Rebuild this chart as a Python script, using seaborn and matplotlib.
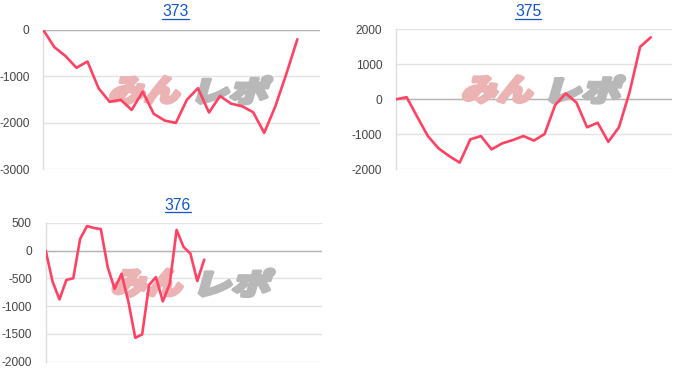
import numpy as np
import pandas as pd
import matplotlib
matplotlib.use("Agg")
import matplotlib.pyplot as plt
import seaborn as sns
from matplotlib.textpath import TextPath
from matplotlib.patches import PathPatch
from matplotlib.font_manager import FontProperties
from matplotlib.transforms import Affine2D, IdentityTransform
from matplotlib.lines import Line2D

# ---------------- data ----------------
titles = ["373", "375", "376"]
values_373 = [0, -370, -560, -815, -680, -1255, -1550, -1505, -1725, -1330, -1810, -1955,
              -2005, -1505, -1256, -1780, -1425, -1590, -1645, -1775, -2220, -1650, -950, -200]
values_375 = [0, 60, -500, -1050, -1400, -1620, -1810, -1145, -1050, -1430, -1260, -1165,
              -1050, -1180, -990, -160, 170, -95, -800, -670, -1215, -800, 200, 1500, 1770]
values_376 = [0, -560, -880, -530, -500, 210, 440, 405, 385, -300, -690, -420, -920,
              -1570, -1510, -620, -480, -915, -600, 370, 65, -55, -550, -165]
yticks_373 = [0, -1000, -2000, -3000]
yticks_375 = [2000, 1000, 0, -1000, -2000]
yticks_376 = [500, 0, -500, -1000, -1500, -2000]
xmax = [25.05, 26.0, 40.1]

series = [values_373, values_375, values_376]
yticks = [yticks_373, yticks_375, yticks_376]

# ---------------- style ----------------
sns.set_theme(style="white")
plt.rcParams["font.family"] = ["Liberation Sans", "DejaVu Sans"]

W, H = 700, 386
fig = plt.figure(figsize=(W / 100, H / 100), dpi=100)
fig.patch.set_facecolor("white")

# axes rectangles in pixels: left, top, right, bottom
rects_px = [(43.3, 30.0, 320.0, 169.0), (396.0, 29.3, 672.0, 169.3), (45.7, 222.7, 322.0, 361.7)]
title_px = [(175.5, 12.0), (528.0, 12.0), (177.7, 205.0)]

LINE = "#ff4263"
BLUE = "#1155cc"

axes = []
for i, (l, t, r, b) in enumerate(rects_px):
    ax = fig.add_axes([l / W, 1 - b / H, (r - l) / W, (b - t) / H])
    axes.append(ax)
    vals = series[i]
    df = pd.DataFrame({"x": np.arange(len(vals)), "y": vals})
    sns.lineplot(data=df, x="x", y="y", ax=ax, color=LINE, linewidth=1.9, zorder=3)
    ax.set_xlim(0, xmax[i])
    yt = yticks[i]
    ax.set_ylim(min(yt), max(yt))
    ax.set_yticks(yt)
    ax.set_yticklabels([str(v) for v in yt])
    ax.set_xticks([])
    ax.set_xlabel("")
    ax.set_ylabel("")
    ax.tick_params(axis="y", length=0, pad=10, labelsize=8.6, labelcolor="#444444")
    ax.grid(axis="y", color="#e3e3e3", linewidth=1.0)
    ax.grid(axis="x", visible=False)
    ax.axhline(0, color="#b5b5b5", linewidth=1.0, zorder=1.5)
    for s in ["top", "right", "bottom"]:
        ax.spines[s].set_visible(False)
    ax.spines["left"].set_color("#dddddd")
    ax.spines["left"].set_linewidth(1.0)
    ax.set_facecolor("white")

    # watermark logo (behind the line)
    fp = FontProperties(family=["Noto Sans CJK JP"], weight="black")
    parts = [("みん", 0, 72, "#ebb3b3"), ("レポ", 86, 164, "#b8b8b8")]
    lx0, ly0 = l + 66, t + 45
    for txt, a0, a1, col in parts:
        path = TextPath((0, 0), txt, size=40, prop=fp)
        ext = path.get_extents()
        p2 = Affine2D().translate(-ext.x0, -ext.y0).skew_deg(12, 0).transform_path(path)
        e2 = p2.get_extents()
        sx = (a1 - a0 - 3) / e2.width
        sy = 27.0 / e2.height
        p3 = (Affine2D().translate(-e2.x0, -e2.y0).scale(sx, sy)
              .translate(lx0 + a0 + 1.5, H - (ly0 + 28.5))).transform_path(p2)
        patch = PathPatch(p3, transform=IdentityTransform(), facecolor=col,
                          edgecolor=col, linewidth=2.6, joinstyle="round",
                          zorder=2, clip_on=False)
        ax.add_artist(patch)

# titles with underline
title_texts = []
for i, (x, y) in enumerate(title_px):
    tx = fig.text(x / W, 1 - y / H, titles[i], ha="center", va="center",
                  fontsize=11.3, color=BLUE)
    title_texts.append(tx)

fig.canvas.draw()
renderer = fig.canvas.get_renderer()
for tx in title_texts:
    bb = tx.get_window_extent(renderer)
    yl = (bb.y0 + 1.0) / H
    fig.add_artist(Line2D([bb.x0 / W, bb.x1 / W], [yl, yl], color=BLUE,
                          linewidth=0.9, transform=fig.transFigure))

fig.savefig("out.png", dpi=100, facecolor="white")
